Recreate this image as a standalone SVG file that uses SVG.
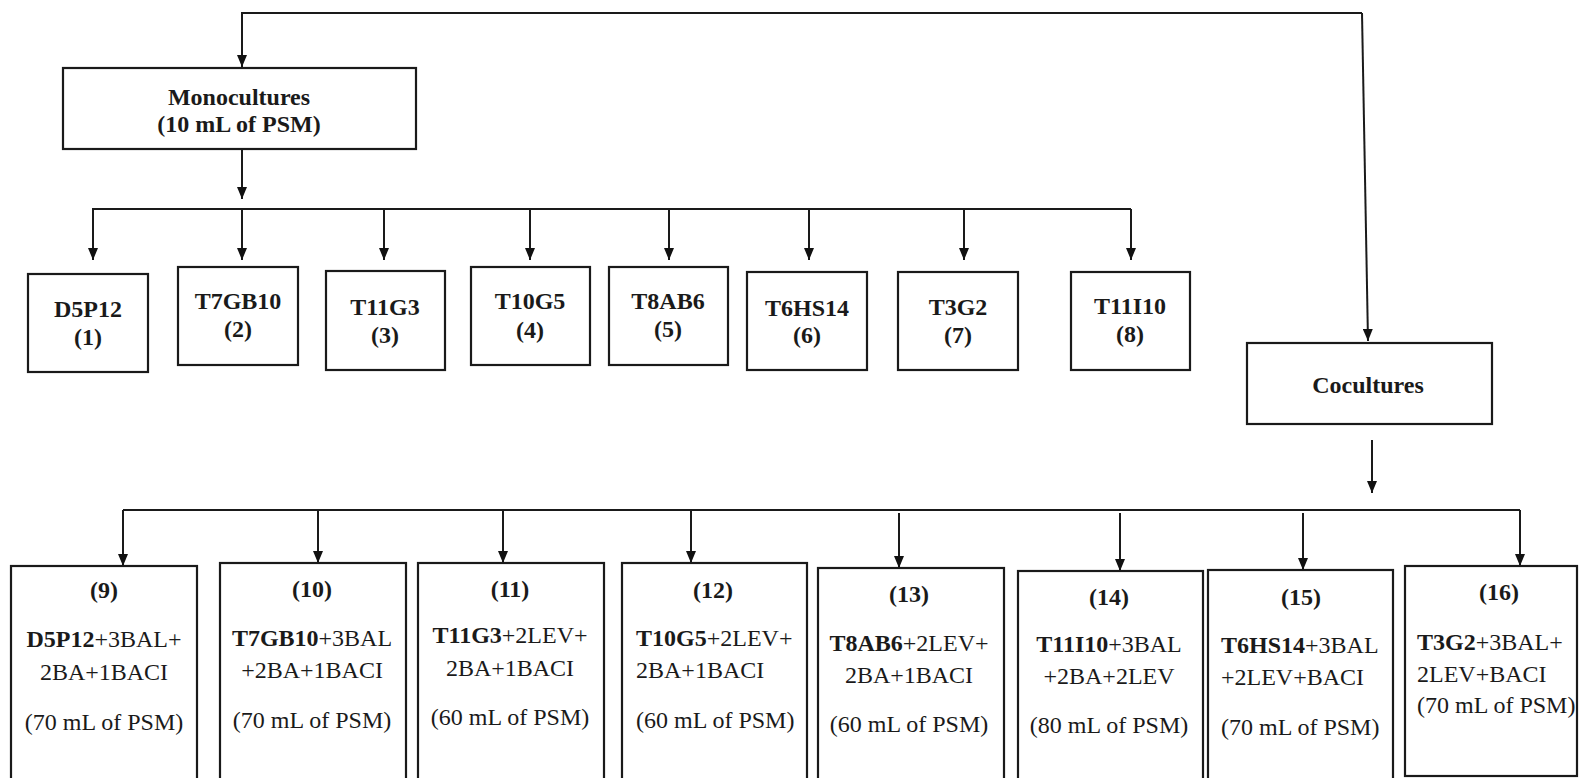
<svg xmlns="http://www.w3.org/2000/svg" width="1582" height="778" viewBox="0 0 1582 778">
<defs>
<marker id="ah" markerWidth="12" markerHeight="10" refX="12" refY="5" orient="auto" markerUnits="userSpaceOnUse" viewBox="0 0 12 10">
<path d="M0,0 L12,5 L0,10 z" fill="#111"/>
</marker>
<style>
.box{fill:#fff;stroke:#1a1a1a;stroke-width:2.2}
.c{fill:none;stroke:#1a1a1a;stroke-width:2}
.a{fill:none;stroke:#1a1a1a;stroke-width:2;marker-end:url(#ah)}
text{font-family:'Liberation Serif','DejaVu Serif',serif;font-size:24px;fill:#1a1a1a}
.m{text-anchor:middle}
.b{font-weight:bold}
</style>
</defs>
<rect width="1582" height="778" fill="#fff"/>

<g id="connectors">
<path class="a" d="M1362,13 L242,13 L242,67"/>
<path class="a" d="M1362,13 L1368,341"/>
<path class="a" d="M242,150 L242,199"/>
<path class="c" d="M93,260 L93,209 L1131,209"/>
<path class="a" d="M93,209 L93,260"/>
<path class="a" d="M242,209 L242,260"/>
<path class="a" d="M384,209 L384,260"/>
<path class="a" d="M530,209 L530,260"/>
<path class="a" d="M669,209 L669,260"/>
<path class="a" d="M809,209 L809,260"/>
<path class="a" d="M964,209 L964,260"/>
<path class="a" d="M1131,209 L1131,260"/>
<path class="a" d="M1372,440 L1372,493"/>
<path class="c" d="M123,510 L1520,510"/>
<path class="a" d="M123,510 L123,566"/>
<path class="a" d="M318,510 L318,563"/>
<path class="a" d="M503,510 L503,563"/>
<path class="a" d="M691,510 L691,563"/>
<path class="a" d="M899,513 L899,568"/>
<path class="a" d="M1120,513 L1120,571"/>
<path class="a" d="M1303,513 L1303,570"/>
<path class="a" d="M1520,510 L1520,566"/>
</g>

<g font-family="Liberation Serif, DejaVu Serif, serif">
<g id="monocultures">
<rect class="box" x="63" y="68" width="353" height="81"/>
<text class="m b" x="239" y="105">Monocultures</text>
<text class="m b" x="239" y="132">(10 mL of PSM)</text>
</g>

<g id="cocultures">
<rect class="box" x="1247" y="343" width="245" height="81"/>
<text class="m b" x="1368" y="393">Cocultures</text>
</g>

<g id="n1"><rect class="box" x="28" y="274" width="120" height="98"/>
<text class="m b" x="88" y="317">D5P12</text><text class="m b" x="88" y="345">(1)</text></g>
<g id="n2"><rect class="box" x="178" y="267" width="120" height="98"/>
<text class="m b" x="238" y="309">T7GB10</text><text class="m b" x="238" y="337">(2)</text></g>
<g id="n3"><rect class="box" x="326" y="271" width="119" height="99"/>
<text class="m b" x="385" y="315">T11G3</text><text class="m b" x="385" y="343">(3)</text></g>
<g id="n4"><rect class="box" x="471" y="267" width="119" height="98"/>
<text class="m b" x="530" y="309">T10G5</text><text class="m b" x="530" y="338">(4)</text></g>
<g id="n5"><rect class="box" x="609" y="267" width="119" height="98"/>
<text class="m b" x="668" y="309">T8AB6</text><text class="m b" x="668" y="337">(5)</text></g>
<g id="n6"><rect class="box" x="747" y="272" width="120" height="98"/>
<text class="m b" x="807" y="316">T6HS14</text><text class="m b" x="807" y="343">(6)</text></g>
<g id="n7"><rect class="box" x="898" y="272" width="120" height="98"/>
<text class="m b" x="958" y="315">T3G2</text><text class="m b" x="958" y="343">(7)</text></g>
<g id="n8"><rect class="box" x="1071" y="272" width="119" height="98"/>
<text class="m b" x="1130" y="314">T11I10</text><text class="m b" x="1130" y="342">(8)</text></g>

<g id="n9"><rect class="box" x="11" y="566" width="186" height="230"/>
<text class="m b" x="104" y="598">(9)</text>
<text class="m" x="104" y="647"><tspan class="b">D5P12</tspan>+3BAL+</text>
<text class="m" x="104" y="680">2BA+1BACI</text>
<text class="m" x="104" y="730">(70 mL of PSM)</text></g>

<g id="n10"><rect class="box" x="220" y="563" width="186" height="230"/>
<text class="m b" x="312" y="597">(10)</text>
<text class="m" x="312" y="646"><tspan class="b">T7GB10</tspan>+3BAL</text>
<text class="m" x="312" y="678">+2BA+1BACI</text>
<text class="m" x="312" y="728">(70 mL of PSM)</text></g>

<g id="n11"><rect class="box" x="418" y="563" width="186" height="230"/>
<text class="m b" x="510" y="597">(11)</text>
<text class="m" x="510" y="643"><tspan class="b">T11G3</tspan>+2LEV+</text>
<text class="m" x="510" y="676">2BA+1BACI</text>
<text class="m" x="510" y="725">(60 mL of PSM)</text></g>

<g id="n12"><rect class="box" x="622" y="563" width="185" height="230"/>
<text class="m b" x="713" y="598">(12)</text>
<text x="636" y="646"><tspan class="b">T10G5</tspan>+2LEV+</text>
<text x="636" y="678">2BA+1BACI</text>
<text x="636" y="728">(60 mL of PSM)</text></g>

<g id="n13"><rect class="box" x="818" y="568" width="186" height="230"/>
<text class="m b" x="909" y="602">(13)</text>
<text class="m" x="909" y="651"><tspan class="b">T8AB6</tspan>+2LEV+</text>
<text class="m" x="909" y="683">2BA+1BACI</text>
<text class="m" x="909" y="732">(60 mL of PSM)</text></g>

<g id="n14"><rect class="box" x="1018" y="571" width="185" height="230"/>
<text class="m b" x="1109" y="605">(14)</text>
<text class="m" x="1109" y="652"><tspan class="b">T11I10</tspan>+3BAL</text>
<text class="m" x="1109" y="684">+2BA+2LEV</text>
<text class="m" x="1109" y="733">(80 mL of PSM)</text></g>

<g id="n15"><rect class="box" x="1208" y="570" width="185" height="230"/>
<text class="m b" x="1301" y="605">(15)</text>
<text x="1221" y="653"><tspan class="b">T6HS14</tspan>+3BAL</text>
<text x="1221" y="685">+2LEV+BACI</text>
<text x="1221" y="735">(70 mL of PSM)</text></g>

<g id="n16"><rect class="box" x="1405" y="566" width="172" height="210"/>
<text class="m b" x="1499" y="600">(16)</text>
<text x="1417" y="650"><tspan class="b">T3G2</tspan>+3BAL+</text>
<text x="1417" y="682">2LEV+BACI</text>
<text x="1417" y="713">(70 mL of PSM)</text></g>
</g>
</svg>
